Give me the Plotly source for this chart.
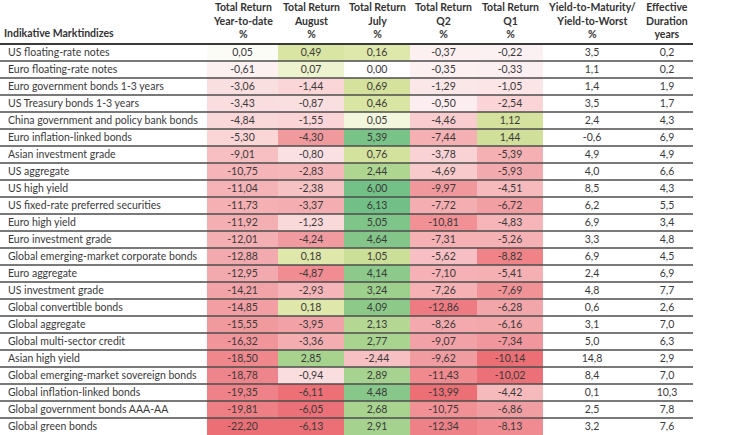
import plotly.graph_objects as go
from plotly.colors import sample_colorscale

names = [
    "US floating-rate notes", "Euro floating-rate notes", "Euro government bonds 1-3 years",
    "US Treasury bonds 1-3 years", "China government and policy bank bonds", "Euro inflation-linked bonds",
    "Asian investment grade", "US aggregate", "US high yield", "US fixed-rate preferred securities",
    "Euro high yield", "Euro investment grade", "Global emerging-market corporate bonds", "Euro aggregate",
    "US investment grade", "Global convertible bonds", "Global aggregate", "Global multi-sector credit",
    "Asian high yield", "Global emerging-market sovereign bonds", "Global inflation-linked bonds",
    "Global government bonds AAA-AA", "Global green bonds",
]
ytd = [0.05, -0.61, -3.06, -3.43, -4.84, -5.30, -9.01, -10.75, -11.04, -11.73, -11.92, -12.01, -12.88,
       -12.95, -14.21, -14.85, -15.55, -16.32, -18.50, -18.78, -19.35, -19.81, -22.20]
aug = [0.49, 0.07, -1.44, -0.87, -1.55, -4.30, -0.80, -2.83, -2.38, -3.37, -1.23, -4.24, 0.18,
       -4.87, -2.93, 0.18, -3.95, -3.36, 2.85, -0.94, -6.11, -6.05, -6.13]
jul = [0.16, 0.00, 0.69, 0.46, 0.05, 5.39, 0.76, 2.44, 6.00, 6.13, 5.05, 4.64, 1.05,
       4.14, 3.24, 4.09, 2.13, 2.77, -2.44, 2.89, 4.48, 2.68, 2.91]
q2 = [-0.37, -0.35, -1.29, -0.50, -4.46, -7.44, -3.78, -4.69, -9.97, -7.72, -10.81, -7.31, -5.62,
      -7.10, -7.26, -12.86, -8.26, -9.07, -9.62, -11.43, -13.99, -10.75, -12.34]
q1 = [-0.22, -0.33, -1.05, -2.54, 1.12, 1.44, -5.39, -5.93, -4.51, -6.72, -4.83, -5.26, -8.82,
      -5.41, -7.69, -6.28, -6.16, -7.34, -10.14, -10.02, -4.42, -6.86, -8.13]
ytm = [3.5, 1.1, 1.4, 3.5, 2.4, -0.6, 4.9, 4.0, 8.5, 6.2, 6.9, 3.3, 6.9, 2.4, 4.8, 0.6, 3.1, 5.0,
       14.8, 8.4, 0.1, 2.5, 3.2]
dur = [0.2, 0.2, 1.9, 1.7, 4.3, 6.9, 4.9, 6.6, 4.3, 5.5, 3.4, 4.8, 4.5, 6.9, 7.7, 2.6, 7.0, 6.3,
       2.9, 7.0, 10.3, 7.8, 7.6]
headers = [
    "Indikative Marktindizes",
    "Total Return<br>Year-to-date<br>%",
    "Total Return<br>August<br>%",
    "Total Return<br>July<br>%",
    "Total Return<br>Q2<br>%",
    "Total Return<br>Q1<br>%",
    "Yield-to-Maturity/<br>Yield-to-Worst<br>%",
    "Effective<br>Duration<br>years",
]

# diverging scale on value / column max |value|, mapped to [0, 1]
scale = [
    [0.0, "#EA5F66"], [0.05, "#EC7077"], [0.125, "#EF878D"], [0.2, "#F29FA3"],
    [0.275, "#F5B0B4"], [0.35, "#F8CACD"], [0.425, "#FADADC"], [0.49, "#FCEFF1"],
    [0.5, "#FFFFFF"], [0.51, "#DCE6A3"], [0.55, "#D2E095"], [0.6, "#C2DA8A"],
    [0.675, "#ACD487"], [0.75, "#98CC82"], [0.85, "#7DC27C"], [0.925, "#6EBD7B"],
    [1.0, "#63B97A"],
]


def fills(vals):
    m = max(abs(v) for v in vals)
    cols = sample_colorscale(scale, [0.5 + 0.5 * v / m for v in vals])
    out = []
    for c in cols:
        r, g, b = [int(float(x)) for x in c[4:-1].split(",")]
        out.append(f"rgba({r},{g},{b},0.9)")
    return out


def fmt(vals, d):
    return [f"{v:.{d}f}".replace(".", ",") for v in vals]


clear = ["rgba(255,255,255,0)"] * len(names)
n = len(names)
header_h = 44
row_h = 17
W, H = 731, 435
col_w = [207, 71, 66, 66, 67, 66, 98, 52]
table_w = sum(col_w)
body_h = H - header_h
blank_h = row_h  # invisible table header row sitting inside the header band
text_lift = 3.5  # raise the text layer so the labels sit centred between the rules

blank_header = dict(values=[""] * len(col_w), height=blank_h, line=dict(width=0),
                    fill_color="rgba(255,255,255,0)", font=dict(size=1))
empty = [[""] * n for _ in col_w]

# layer 1: coloured cells
fill_table = go.Table(
    domain=dict(x=[0, table_w / W], y=[0, (body_h + blank_h) / H]),
    columnwidth=col_w,
    header=blank_header,
    cells=dict(
        values=empty,
        fill_color=[clear, fills(ytd), fills(aug), fills(jul), fills(q2), fills(q1), clear, clear],
        line=dict(width=0),
        height=row_h,
    ),
)
# layer 2: texts
text_table = go.Table(
    domain=dict(x=[0, table_w / W], y=[text_lift / H, (body_h + blank_h + text_lift) / H]),
    columnwidth=col_w,
    header=blank_header,
    cells=dict(
        values=[[s.replace(" ", "\u00a0") for s in names], fmt(ytd, 2), fmt(aug, 2), fmt(jul, 2),
                fmt(q2, 2), fmt(q1, 2), fmt(ytm, 1), fmt(dur, 1)],
        align=["left"] + ["center"] * 7,
        font=dict(family="Lato", size=10.5, color="#3a3a3a"),
        fill_color="rgba(255,255,255,0)",
        line=dict(width=0),
        height=row_h,
    ),
)
fig = go.Figure([fill_table, text_table])

# header texts
annotations = []
left = 0
for i, (h, w) in enumerate(zip(headers, col_w)):
    if i == 0:
        annotations.append(dict(x=3 / W, y=1 - 26 / H, xref="paper", yref="paper",
                                xanchor="left", yanchor="top", text=f"<b>{h}</b>", showarrow=False,
                                font=dict(family="Lato", size=10.5, color="#333333"), borderpad=0))
    else:
        annotations.append(dict(x=(left + w / 2) / W, y=1, xref="paper", yref="paper",
                                xanchor="center", yanchor="top", text=f"<b>{h}</b>", showarrow=False,
                                font=dict(family="Lato", size=10.5, color="#333333"), borderpad=0))
    left += w

shapes = []
for k in range(n):
    y = (body_h - row_h * k) / H
    shapes.append(dict(type="line", xref="paper", yref="paper", x0=0, x1=table_w / W,
                       y0=y, y1=y, line=dict(color="#4d4d4d" if k else "#3a3a3a",
                                             width=1.5 if k else 2)))

fig.update_layout(
    width=W, height=H,
    margin=dict(l=0, r=0, t=0, b=0),
    paper_bgcolor="white",
    shapes=shapes,
    annotations=annotations,
)
fig.write_html("out.html", config={"displayModeBar": False},
               post_script="document.body.style.margin='0';")
